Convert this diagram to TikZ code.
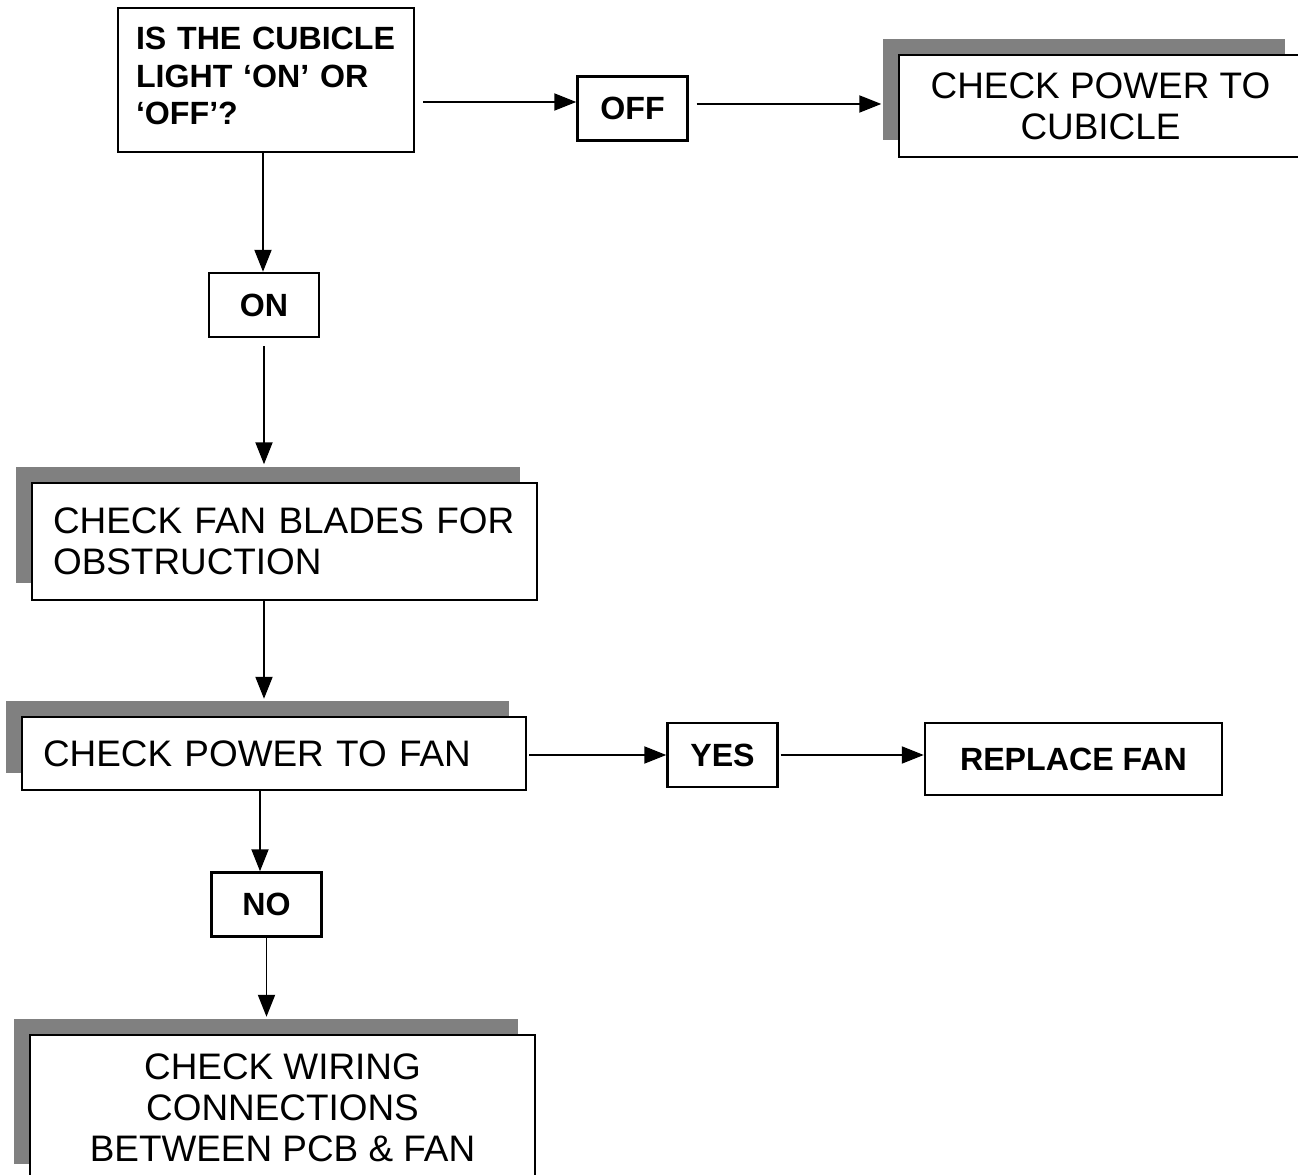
\documentclass[tikz,border=0pt]{standalone}
\usepackage{fontspec}
\setmainfont{Liberation Sans}
\usetikzlibrary{arrows.meta,shadows}

\begin{document}
\begin{tikzpicture}[x=0.02cm, y=-0.02cm,
  box/.style={draw, line width=1.4pt, fill=white, inner ysep=0pt,
    font=\fontsize{21}{23.3}\selectfont},
  boldbox/.style={box, font=\fontsize{18.3}{21.3}\selectfont\bfseries},
  answer/.style={boldbox, inner sep=0pt, minimum width=2.2cm, minimum height=1.28cm},
  shadowbox/.style={box, general shadow={fill=black!50, shadow xshift=-0.33cm, shadow yshift=0.33cm}},
  arr/.style={-{Triangle[length=0.44cm,width=0.34cm]}, line width=1.1pt}]

  \useasboundingbox (0,0) rectangle (1298,1175);

  %=====================================================================
  % top row: question, OFF branch
  %=====================================================================
  \node[boldbox, align=left, text width=5.2cm, inner xsep=0.36cm, minimum height=2.88cm]
    (q) at (266,80) {IS THE CUBICLE\\LIGHT `ON' OR\\`OFF'?\vspace{0.15cm}};
  \node[answer] (off) at (632.5,108.5) {OFF};
  \node[shadowbox, align=center, inner sep=0pt, minimum width=8.06cm, minimum height=2.04cm]
    (cub) at (1100.5,106) {CHECK POWER TO\\CUBICLE};

  \draw[arr, shorten <=0.16cm] ([yshift=0.13cm]q.east |- off.west) -- ([yshift=0.13cm]off.west);
  \draw[arr, shorten <=0.16cm, shorten >=0.33cm] ([yshift=0.09cm]off.east) -- ([yshift=0.09cm]off.east -| cub.west);

  %=====================================================================
  % ON branch: fan blades, power to fan
  %=====================================================================
  \node[answer] (on) at (264,305) {ON};
  \node[shadowbox, align=left, text width=9.26cm, inner xsep=0.42cm, minimum height=2.34cm]
    (blades) at (284.5,541.5) {CHECK FAN BLADES FOR\\OBSTRUCTION};
  \node[shadowbox, align=left, text width=9.24cm, inner xsep=0.42cm, minimum height=1.46cm]
    (power) at (274,753.5) {CHECK POWER TO FAN};

  \draw[arr] ([xshift=-0.06cm]q.south) -- ([xshift=-0.06cm]q.south |- on.north);
  \draw[arr, shorten <=0.16cm, shorten >=0.35cm] (on.south) -- (on.south |- blades.north);
  \draw[arr, shorten >=0.34cm] (on.south |- blades.south) -- (on.south |- power.north);

  %=====================================================================
  % YES / NO after power check
  %=====================================================================
  \node[answer] (yes) at (722.5,755) {YES};
  \node[boldbox, inner sep=0pt, minimum width=5.94cm, minimum height=1.44cm]
    (replace) at (1073.5,759) {REPLACE FAN};
  \node[answer] (no) at (266.5,904.5) {NO};
  \node[shadowbox, align=center, inner sep=0pt, minimum width=10.1cm, minimum height=2.92cm]
    (wiring) at (282.5,1108) {CHECK WIRING\\CONNECTIONS\\BETWEEN PCB \& FAN};

  \draw[arr, shorten <=0.04cm] (power.east |- yes.west) -- (yes.west);
  \draw[arr, shorten <=0.04cm] (yes.east) -- (yes.east -| replace.west);
  \draw[arr] ([xshift=-0.08cm]on.south |- power.south) -- ([xshift=-0.08cm]on.south |- no.north);
  \draw[arr, shorten >=0.34cm] (no.south) -- (no.south |- wiring.north);

\end{tikzpicture}
\end{document}
